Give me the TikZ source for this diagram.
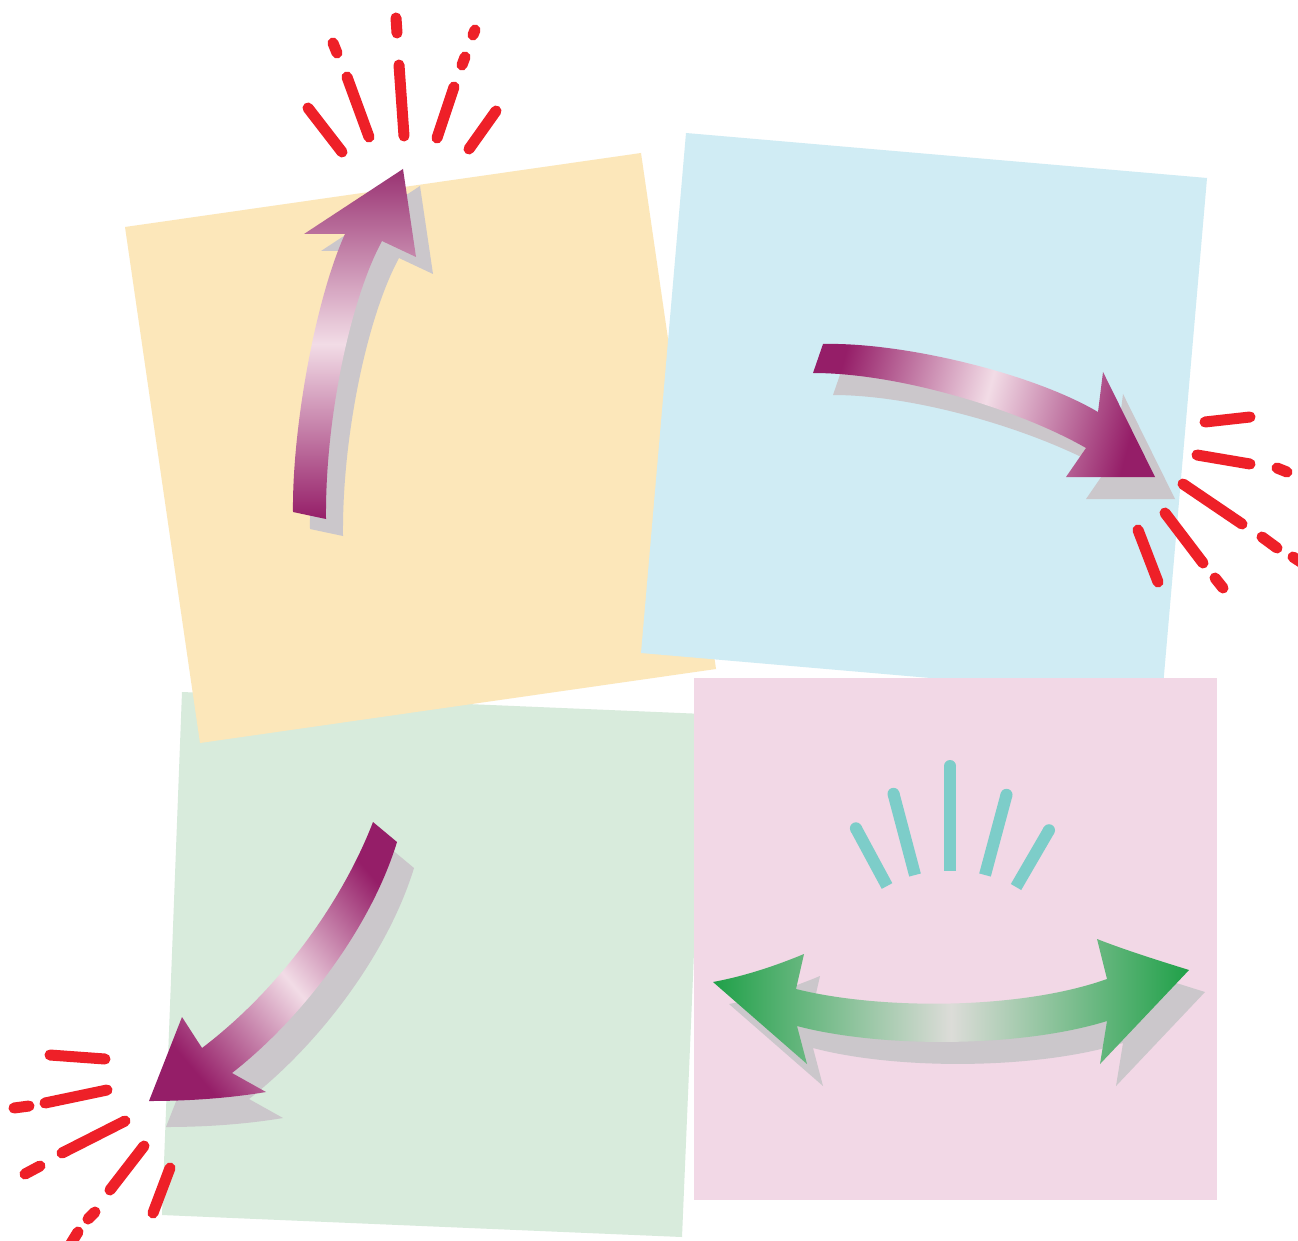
\documentclass[tikz,border=0pt]{standalone}
\definecolor{yel}{HTML}{FCE7BA}
\definecolor{blu}{HTML}{D0ECF4}
\definecolor{grn}{HTML}{D8EBDC}
\definecolor{pnk}{HTML}{F2D8E6}
\definecolor{rd}{HTML}{EE2028}
\definecolor{tealc}{HTML}{7DCDC9}
\definecolor{shd}{HTML}{CBC7CB}
\definecolor{mag}{HTML}{951E68}
\definecolor{magt}{HTML}{993272}
\definecolor{magl}{HTML}{F2DCE6}
\definecolor{gdk}{HTML}{1FA048}
\definecolor{glt}{HTML}{DCDCD8}
\def\pathUp{(293,512) .. controls (292,430) and (315,300) .. (345,234) -- (304,234) -- (403,169) -- (416,257) -- (382,241) .. controls (350,300) and (325,420) .. (326,519) -- cycle}
\def\pathRight{(813,373) -- (823,344) .. controls (900,342) and (1030,372) .. (1098,412) -- (1103,372) -- (1155,477) -- (1066,477) -- (1086,448) .. controls (1020,410) and (900,373) .. (813,373) -- cycle}
\def\pathDown{(373,822) -- (397,842) .. controls (370,930) and (300,1020) .. (232,1073) -- (266,1092) .. controls (230,1098) and (190,1101) .. (149,1101) -- (182,1017) -- (202,1048) .. controls (285,985) and (345,895) .. (373,822) -- cycle}
\def\pathDouble{(713,982) .. controls (745,976) and (775,966) .. (804,954) -- (796,989) .. controls (880,1010) and (1020,1010) .. (1107,979) -- (1097,939) .. controls (1125,950) and (1160,961) .. (1189,970) -- (1100,1064) -- (1107,1021) .. controls (1020,1048) and (880,1048) .. (797,1026) -- (807,1064) -- cycle}
\begin{document}
\begin{tikzpicture}[x=0.01cm,y=-0.01cm,
  redspark/.style={draw=rd, line width=0.11cm, line cap=round},
  tealray/.style={draw=tealc, line width=0.12cm, line cap=butt},
  tealdot/.style={fill=tealc}]
\useasboundingbox[fill=white] (0,0) rectangle (1298,1240);
% notes
\fill[grn] (182,692) -- (704,714) -- (682,1237) -- (162,1215) -- cycle;
\fill[yel] (125,227) -- (641,153) -- (716,669) -- (200,743) -- cycle;
\fill[blu] (686,133) -- (1207,178) -- (1162,698) -- (641,653) -- cycle;
\fill[pnk] (694,678) rectangle (1217,1200);
% arrow shadows
\fill[shd, shift={(17,17)}] \pathUp;
\fill[shd, shift={(20,22)}] \pathRight;
\fill[shd, shift={(17,26)}] \pathDown;
\fill[shd, shift={(16,22)}] \pathDouble;
% arrows
\shade[top color=magt, bottom color=mag, middle color=magl] \pathUp;
\shade[left color=mag, right color=mag, middle color=magl, shading angle=75] \pathRight;
\shade[top color=mag, bottom color=mag, middle color=magl, shading angle=-50] \pathDown;
\shade[left color=gdk, right color=gdk, middle color=glt] \pathDouble;
% teal rays
\draw[tealray] (855.9,828.3) -- (887,886);
\draw[tealray] (893.5,793.8) -- (915,875);
\draw[tealray] (950,766) -- (950,871);
\draw[tealray] (1006.5,794.8) -- (985,875);
\draw[tealray] (1049,830.2) -- (1016,887);
\fill[tealdot] (855.9,828.3) circle (0.06cm);
\fill[tealdot] (893.5,793.8) circle (0.06cm);
\fill[tealdot] (950,766) circle (0.06cm);
\fill[tealdot] (1006.5,794.8) circle (0.06cm);
\fill[tealdot] (1049,830.2) circle (0.06cm);
% red sparks top
\draw[redspark] (308,108) -- (342,152);
\draw[redspark] (347,77) -- (369,137);
\draw[redspark] (333,43) -- (337,53);
\draw[redspark] (399,65) -- (404,136);
\draw[redspark] (396,18) -- (397,33);
\draw[redspark] (454,87) -- (437,138);
\draw[redspark] (465,57) -- (462,65);
\draw[redspark] (475,30) -- (473,35);
\draw[redspark] (496,111) -- (469,149);
% red sparks right
\draw[redspark] (1205,422) -- (1250,417);
\draw[redspark] (1197,455) -- (1250,464);
\draw[redspark] (1277,468) -- (1287,472);
\draw[redspark] (1183,484) -- (1242,524);
\draw[redspark] (1262,537) -- (1277,548);
\draw[redspark] (1293,557) -- (1310,568);
\draw[redspark] (1165,513) -- (1203,563);
\draw[redspark] (1215,578) -- (1223,588);
\draw[redspark] (1138,530) -- (1158,582);
% red sparks bottom left
\draw[redspark] (50,1055) -- (105,1059);
\draw[redspark] (45,1103) -- (107,1090);
\draw[redspark] (14,1108) -- (29,1106);
\draw[redspark] (62,1153) -- (125,1121);
\draw[redspark] (25,1174) -- (40,1166);
\draw[redspark] (110,1190) -- (144,1146);
\draw[redspark] (88,1219) -- (95,1212);
\draw[redspark] (78,1232) -- (70,1245);
\draw[redspark] (153,1213) -- (170,1168);
\end{tikzpicture}
\end{document}
